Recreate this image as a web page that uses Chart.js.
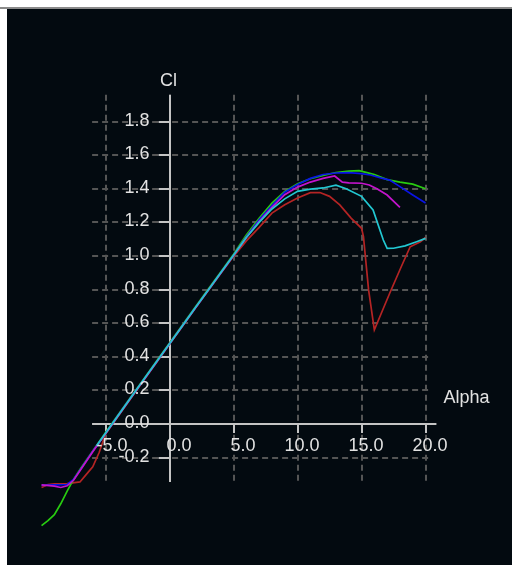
<!DOCTYPE html>
<html>
<head>
<meta charset="utf-8">
<script src="https://cdn.jsdelivr.net/npm/chart.js@4.4.1/dist/chart.umd.min.js"></script>
<style>
  html, body { margin: 0; padding: 0; background: #fff; overflow: hidden; }
  canvas { display: block; }
</style>
</head>
<body>
<canvas id="polarChart" width="512" height="565"></canvas>
<script>
// Cl vs Alpha polars, one pair of arrays per curve
var greenAlpha = [-10, -9.5, -9, -8.5, -8, -7.5, -7, -6, -5, -4, -3, -2, -1, 0, 1, 2, 3, 4, 5, 6, 7, 8, 9, 10, 11, 12, 13, 14, 14.8, 15.5, 16, 17, 18, 19, 20];
var greenCl = [-0.605, -0.575, -0.54, -0.475, -0.4, -0.33, -0.27, -0.16, -0.05, 0.057, 0.163, 0.27, 0.376, 0.482, 0.589, 0.695, 0.8, 0.905, 1.01, 1.125, 1.225, 1.315, 1.385, 1.43, 1.46, 1.48, 1.497, 1.505, 1.508, 1.495, 1.485, 1.455, 1.44, 1.428, 1.4];

var blueAlpha = [-10, -9, -8, -7.5, -7, -6, -5, -4, -3, -2, -1, 0, 1, 2, 3, 4, 5, 6, 7, 8, 9, 10, 11, 12, 13, 14, 15, 15.7, 16.5, 17.2, 18, 19, 20];
var blueCl = [-0.365, -0.362, -0.36, -0.33, -0.275, -0.162, -0.055, 0.054, 0.16, 0.266, 0.372, 0.478, 0.585, 0.69, 0.795, 0.9, 1.005, 1.115, 1.215, 1.3, 1.38, 1.425, 1.462, 1.485, 1.494, 1.496, 1.49, 1.482, 1.465, 1.452, 1.413, 1.363, 1.315];

var magentaAlpha = [-10, -9, -8.5, -8, -7.5, -7, -6, -5, -4, -3, -2, -1, 0, 1, 2, 3, 4, 5, 6, 7, 8, 9, 10, 11, 12, 12.9, 13.5, 14, 15, 15.6, 16.2, 17, 18];
var magentaCl = [-0.362, -0.37, -0.378, -0.368, -0.335, -0.278, -0.165, -0.058, 0.05, 0.158, 0.264, 0.37, 0.477, 0.583, 0.689, 0.794, 0.899, 1.003, 1.11, 1.205, 1.29, 1.365, 1.41, 1.44, 1.462, 1.476, 1.44, 1.435, 1.433, 1.423, 1.4, 1.363, 1.29];

var cyanAlpha = [-5.7, -5, -4, -3, -2, -1, 0, 1, 2, 3, 4, 5, 6, 7, 8, 9, 10, 11, 12, 13, 13.8, 15, 15.9, 16.7, 17, 17.5, 18.4, 19.3, 20];
var cyanCl = [-0.13, -0.055, 0.052, 0.159, 0.266, 0.372, 0.478, 0.584, 0.69, 0.795, 0.9, 1.005, 1.11, 1.2, 1.28, 1.34, 1.385, 1.398, 1.405, 1.422, 1.4, 1.355, 1.274, 1.095, 1.045, 1.046, 1.06, 1.085, 1.105];

var redAlpha = [-10, -9.5, -9, -8, -7, -6.5, -6, -5.5, -5, -4, -3, -2, -1, 0, 1, 2, 3, 4, 5, 6, 7, 8, 9, 10, 11, 11.75, 12.5, 13.3, 14.2, 15, 15.15, 15.55, 16, 17.2, 18.1, 18.8, 19.6, 20];
var redCl = [-0.378, -0.36, -0.356, -0.355, -0.345, -0.3, -0.255, -0.17, -0.06, 0.048, 0.155, 0.262, 0.368, 0.475, 0.581, 0.687, 0.792, 0.896, 0.998, 1.09, 1.17, 1.255, 1.305, 1.345, 1.377, 1.378, 1.355, 1.304, 1.224, 1.165, 1.115, 0.798, 0.56, 0.778, 0.936, 1.055, 1.085, 1.11];

var xTicks = [-5, 0, 5, 10, 15, 20];
var yTicks = [-0.2, 0.0, 0.2, 0.4, 0.6, 0.8, 1.0, 1.2, 1.4, 1.6, 1.8];

function toPoints(xs, ys) {
    var pts = [];
    for (var i = 0; i < xs.length; i++) {
        pts.push({ x: xs[i], y: ys[i] });
    }
    return pts;
}

function curve(label, xs, ys, color) {
    return {
        label: label,
        data: toPoints(xs, ys),
        borderColor: color,
        borderWidth: 1.7,
        pointRadius: 0,
        tension: 0,
        fill: false
    };
}

var textColor = "#e2e2e2";
var font = "18px 'Liberation Sans', Arial, sans-serif";

// dark frame, dashed grid and the crossing axes, drawn in data units
var framePlugin = {
    id: "frame",
    beforeDraw: function (chart) {
        var ctx = chart.ctx;
        ctx.save();
        ctx.fillStyle = "#ffffff";
        ctx.fillRect(0, 0, chart.width, chart.height);
        ctx.fillStyle = "#8a8a8a";
        ctx.fillRect(0, 7, chart.width, 2);
        ctx.fillStyle = "#030a10";
        ctx.fillRect(7, 9, chart.width - 7, chart.height - 9);
        ctx.restore();
    },
    beforeDatasetsDraw: function (chart) {
        var ctx = chart.ctx;
        var sx = chart.scales.x, sy = chart.scales.y;
        var gx0 = sx.getPixelForValue(-6.05), gx1 = sx.getPixelForValue(20.5);
        var gy0 = sy.getPixelForValue(1.96), gy1 = sy.getPixelForValue(-0.345);
        var ax1 = sx.getPixelForValue(20.85);
        var x0 = sx.getPixelForValue(0), y0 = sy.getPixelForValue(0);

        ctx.save();
        ctx.strokeStyle = "#555555";
        ctx.lineWidth = 2;
        ctx.setLineDash([6, 4]);
        xTicks.forEach(function (v) {
            var px = Math.round(sx.getPixelForValue(v));
            ctx.beginPath();
            ctx.moveTo(px, gy0);
            ctx.lineTo(px, gy1);
            ctx.stroke();
        });
        yTicks.forEach(function (v) {
            var py = Math.round(sy.getPixelForValue(v));
            ctx.beginPath();
            ctx.moveTo(gx0, py);
            ctx.lineTo(gx1, py);
            ctx.stroke();
        });

        ctx.setLineDash([]);
        ctx.strokeStyle = "#c4c4c4";
        ctx.beginPath();
        ctx.moveTo(gx0, Math.round(y0));
        ctx.lineTo(ax1, Math.round(y0));
        ctx.moveTo(Math.round(x0), gy0);
        ctx.lineTo(Math.round(x0), gy1);
        xTicks.forEach(function (v) {
            var px = Math.round(sx.getPixelForValue(v));
            ctx.moveTo(px, y0);
            ctx.lineTo(px, y0 + 9);
        });
        yTicks.forEach(function (v) {
            var py = Math.round(sy.getPixelForValue(v));
            ctx.moveTo(x0 - 11, py);
            ctx.lineTo(x0, py);
        });
        ctx.stroke();
        ctx.restore();
    },
    afterDatasetsDraw: function (chart) {
        var ctx = chart.ctx;
        var sx = chart.scales.x, sy = chart.scales.y;
        var x0 = sx.getPixelForValue(0), y0 = sy.getPixelForValue(0);
        ctx.save();
        ctx.fillStyle = textColor;
        ctx.font = font;
        ctx.textBaseline = "middle";
        ctx.textAlign = "right";
        yTicks.forEach(function (v) {
            ctx.fillText(v.toFixed(1), x0 - 20, sy.getPixelForValue(v) - 1);
        });
        xTicks.forEach(function (v) {
            ctx.fillText(v.toFixed(1), sx.getPixelForValue(v) + 22, y0 + 22);
        });
        ctx.textAlign = "center";
        ctx.fillText("Cl", x0 - 1, sy.getPixelForValue(1.96) - 14);
        ctx.textAlign = "left";
        ctx.fillText("Alpha", sx.getPixelForValue(20.85) + 7, sy.getPixelForValue(0.155));
        ctx.restore();
    }
};

new Chart("polarChart", {
    type: "line",
    data: {
        datasets: [
            curve("cyan", cyanAlpha, cyanCl, "#22c8d2"),
            curve("magenta", magentaAlpha, magentaCl, "#c414cc"),
            curve("blue", blueAlpha, blueCl, "#0a14e6"),
            curve("green", greenAlpha, greenCl, "#28cc10"),
            curve("red", redAlpha, redCl, "#b42424")
        ]
    },
    options: {
        responsive: false,
        animation: false,
        layout: { padding: 0 },
        plugins: {
            legend: { display: false },
            tooltip: { enabled: false }
        },
        scales: {
            x: { type: "linear", display: false, min: -13.246, max: 26.754 },
            y: { type: "linear", display: false, min: -0.8393, max: 2.5238 }
        }
    },
    plugins: [framePlugin]
});
</script>
</body>
</html>
